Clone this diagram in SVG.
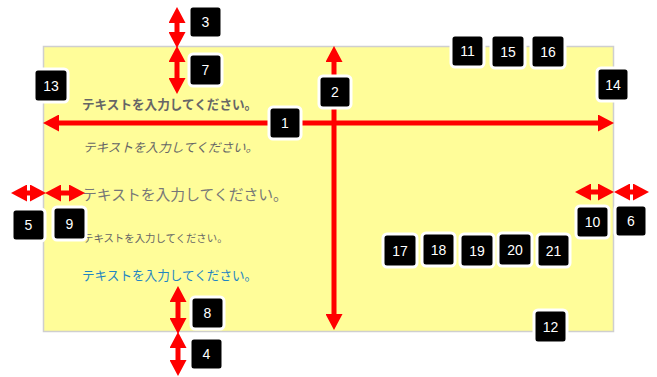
<svg xmlns="http://www.w3.org/2000/svg" width="657" height="377" viewBox="0 0 657 377">
<style>
.t{font-family:"Noto Sans CJK JP","Noto Sans",sans-serif;fill:#666}
.b rect{fill:#000;stroke:#fff;stroke-width:3}
.b text{font-family:"Liberation Sans",Arial,sans-serif;font-size:14px;fill:#fff;text-anchor:middle}
.ar{stroke:#f00;stroke-width:5;fill:none;marker-start:url(#ah);marker-end:url(#ah)}
</style>
<defs>
<marker id="ah" viewBox="0 0 16 17" refX="0" refY="8.5" markerWidth="16" markerHeight="17" markerUnits="userSpaceOnUse" orient="auto-start-reverse">
<path d="M0,0 L16,8.5 L0,17 z" fill="#f00"/>
</marker>
</defs>
<rect x="43.5" y="46.5" width="570" height="285" fill="#fffd99" stroke="#cfcfcf" stroke-width="1.5"/>
<g id="texts">
<text class="t" x="82" y="109" font-size="12.6" font-weight="bold">テキストを入力してください。</text>
<text class="t" x="83" y="152" font-size="12.6" font-style="italic">テキストを入力してください。</text>
<text class="t" x="82" y="199.5" font-size="14.8" style="fill:#777">テキストを入力してください。</text>
<text class="t" x="83" y="241.5" font-size="10.4">テキストを入力してください。</text>
<text class="t" x="82" y="279.5" font-size="12.6" style="fill:#1f86c2">テキストを入力してください。</text>
</g>
<g id="connectors">
<path class="ar" d="M59,123 H598"/>
<path class="ar" d="M334,62 V314"/>
<path class="ar" d="M177,23 V32"/>
<path class="ar" d="M177,62 V78"/>
<path class="ar" d="M178,302 V318"/>
<path class="ar" d="M178,348 V360"/>
<path class="ar" d="M27,193 H30"/>
<path class="ar" d="M61,193 H69"/>
<path class="ar" d="M591,192 H598"/>
<path class="ar" d="M630,192 H633"/>
</g>
<g id="n1" class="b"><rect x="269" y="107" width="32" height="32" rx="4"/><text x="285" y="128">1</text></g>
<g id="n2" class="b"><rect x="319" y="76" width="32" height="32" rx="4"/><text x="335" y="97">2</text></g>
<g id="n3" class="b"><rect x="189" y="6" width="33" height="32" rx="4"/><text x="205.5" y="27">3</text></g>
<g id="n4" class="b"><rect x="190" y="338" width="33" height="32" rx="4"/><text x="206.5" y="359">4</text></g>
<g id="n5" class="b"><rect x="12" y="209" width="33" height="32" rx="4"/><text x="28.5" y="230">5</text></g>
<g id="n6" class="b"><rect x="615" y="205" width="32" height="32" rx="4"/><text x="631" y="226">6</text></g>
<g id="n7" class="b"><rect x="189" y="54" width="33" height="32" rx="4"/><text x="205.5" y="75">7</text></g>
<g id="n8" class="b"><rect x="191" y="297" width="33" height="32" rx="4"/><text x="207.5" y="318">8</text></g>
<g id="n9" class="b"><rect x="53" y="207" width="33" height="33" rx="4"/><text x="69.5" y="229">9</text></g>
<g id="n10" class="b"><rect x="576" y="206" width="33" height="32" rx="4"/><text x="592.5" y="227">10</text></g>
<g id="n11" class="b"><rect x="451" y="35" width="33" height="32" rx="4"/><text x="467.5" y="56">11</text></g>
<g id="n12" class="b"><rect x="534" y="310" width="33" height="33" rx="4"/><text x="550.5" y="332">12</text></g>
<g id="n13" class="b"><rect x="34" y="69" width="34" height="33" rx="4"/><text x="51" y="91">13</text></g>
<g id="n14" class="b"><rect x="597" y="68" width="32" height="33" rx="4"/><text x="613" y="90">14</text></g>
<g id="n15" class="b"><rect x="491" y="35" width="34" height="33" rx="4"/><text x="508" y="57">15</text></g>
<g id="n16" class="b"><rect x="531" y="35" width="34" height="33" rx="4"/><text x="548" y="57">16</text></g>
<g id="n17" class="b"><rect x="383" y="234" width="34" height="33" rx="4"/><text x="400" y="256">17</text></g>
<g id="n18" class="b"><rect x="422" y="233" width="33" height="33" rx="4"/><text x="438.5" y="255">18</text></g>
<g id="n19" class="b"><rect x="460" y="234" width="34" height="33" rx="4"/><text x="477" y="256">19</text></g>
<g id="n20" class="b"><rect x="498" y="233" width="34" height="33" rx="4"/><text x="515" y="255">20</text></g>
<g id="n21" class="b"><rect x="537" y="234" width="33" height="33" rx="4"/><text x="553.5" y="256">21</text></g>
</svg>
